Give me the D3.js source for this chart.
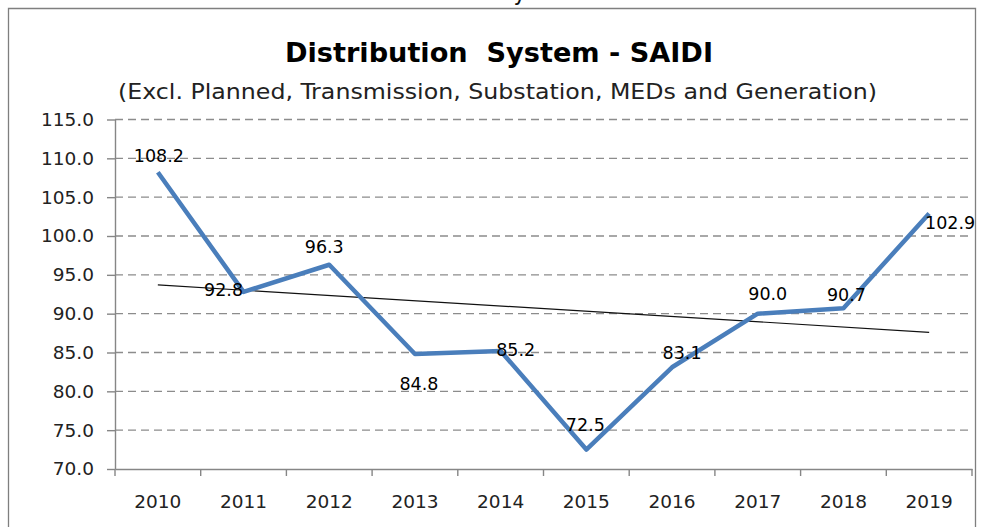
<!DOCTYPE html>
<html>
<head>
<meta charset="utf-8">
<script src="https://cdn.jsdelivr.net/npm/d3@7"></script>
<style>
  html, body { margin: 0; padding: 0; background: #fff; }
  svg { display: block; }
</style>
</head>
<body>
<div id="chart"></div>
<script>
// data
const years = ["2010", "2011", "2012", "2013", "2014", "2015", "2016", "2017", "2018", "2019"];
const saidi = [108.2, 92.8, 96.3, 84.8, 85.2, 72.5, 83.1, 90.0, 90.7, 102.9];
const yTicks = [70, 75, 80, 85, 90, 95, 100, 105, 110, 115];
// where each data label sits relative to its point (as placed in the original)
const labelOffsets = [[1, -17], [-20, -2], [-5, -18], [4, 30], [15, -1], [-1, -25], [10, -15], [10, -20], [3, -14], [21, 9]];

const W = 988, H = 527;
const plotLeft = 115, plotRight = 972, plotTop = 119.5, plotBottom = 469;

const svg = d3.select("#chart").append("svg")
    .attr("width", W)
    .attr("height", H);

// clipped bit of text from above the chart frame
svg.append("text")
    .attr("x", 520).attr("y", 0)
    .attr("font-family", "DejaVu Sans Condensed, DejaVu Sans")
    .attr("font-size", 24)
    .attr("text-anchor", "middle")
    .attr("fill", "#111")
    .text("y");

// chart frame (bottom edge falls outside the picture)
svg.append("path")
    .attr("d", "M8.5," + (H + 5) + "V8.5H975.5V" + (H + 5))
    .attr("fill", "none")
    .attr("stroke", "#7f7f7f")
    .attr("stroke-width", 1.3);

svg.append("text")
    .attr("x", 285).attr("y", 62)
    .attr("font-family", "DejaVu Sans Condensed, DejaVu Sans")
    .attr("font-weight", "bold")
    .attr("font-size", 27)
    .attr("textLength", 428)
    .attr("lengthAdjust", "spacingAndGlyphs")
    .attr("fill", "#000")
    .style("white-space", "pre")
    .text("Distribution  System - SAIDI");

svg.append("text")
    .attr("x", 118).attr("y", 99)
    .attr("font-family", "DejaVu Sans Condensed, DejaVu Sans")
    .attr("font-size", 21.5)
    .attr("textLength", 759)
    .attr("lengthAdjust", "spacingAndGlyphs")
    .attr("fill", "#222")
    .text("(Excl. Planned, Transmission, Substation, MEDs and Generation)");

const x = d3.scaleBand()
    .domain(years)
    .range([plotLeft, plotRight]);
const cx = d => x(d) + x.bandwidth() / 2;

const y = d3.scaleLinear()
    .domain([70, 115])
    .range([plotBottom, plotTop]);

// dashed gridlines
svg.append("g")
    .selectAll("line")
    .data(yTicks.filter(t => t > 70))
    .enter()
    .append("line")
    .attr("x1", plotLeft).attr("x2", plotRight)
    .attr("y1", d => y(d)).attr("y2", d => y(d))
    .attr("stroke", "#8c8c8c")
    .attr("stroke-width", 1.4)
    .attr("stroke-dasharray", "8,5");

// Y axis
const yAxis = svg.append("g")
    .attr("transform", "translate(" + plotLeft + ",0)")
    .call(d3.axisLeft(y).tickValues(yTicks).tickFormat(d3.format(".1f"))
        .tickSizeInner(8).tickSizeOuter(0).tickPadding(13));
yAxis.select(".domain").attr("stroke", "#868686").attr("stroke-width", 1.4);
yAxis.selectAll(".tick line").attr("stroke", "#868686").attr("stroke-width", 1.4);
yAxis.selectAll(".tick text")
    .attr("font-family", "DejaVu Sans")
    .attr("font-size", 18.5)
    .attr("fill", "#222");

// X axis
const xAxis = svg.append("g")
    .attr("transform", "translate(0," + plotBottom + ")")
    .call(d3.axisBottom(x).tickSize(0).tickPadding(0));
xAxis.select(".domain").attr("stroke", "#868686").attr("stroke-width", 1.4);
xAxis.selectAll(".tick text")
    .attr("y", 39).attr("dy", 0)
    .attr("font-family", "DejaVu Sans")
    .attr("font-size", 18.5)
    .attr("fill", "#222");
// category boundary ticks
xAxis.selectAll(".bound")
    .data(years.concat(["end"]))
    .enter()
    .append("line")
    .attr("class", "bound")
    .attr("x1", (d, i) => i < years.length ? x(d) : plotRight)
    .attr("x2", (d, i) => i < years.length ? x(d) : plotRight)
    .attr("y1", 0).attr("y2", 7)
    .attr("stroke", "#868686").attr("stroke-width", 1.4);

// linear trendline (least squares over the series)
const n = saidi.length;
const mx = d3.mean(d3.range(n)), my = d3.mean(saidi);
const slope = d3.sum(saidi, (v, i) => (i - mx) * (v - my)) / d3.sum(d3.range(n), i => (i - mx) * (i - mx));
const trend = [0, n - 1].map(i => [cx(years[i]), y(my + slope * (i - mx))]);
svg.append("line")
    .attr("x1", trend[0][0]).attr("y1", trend[0][1])
    .attr("x2", trend[1][0]).attr("y2", trend[1][1])
    .attr("stroke", "#111")
    .attr("stroke-width", 1.2);

// series line
const line = d3.line()
    .x((d, i) => cx(years[i]))
    .y(d => y(d));
svg.append("path")
    .datum(saidi)
    .attr("d", line)
    .attr("fill", "none")
    .attr("stroke", "#4a7ebb")
    .attr("stroke-width", 4.5)
    .attr("stroke-linejoin", "round");

// data labels
svg.append("g")
    .selectAll("text")
    .data(saidi)
    .enter()
    .append("text")
    .attr("x", (d, i) => cx(years[i]) + labelOffsets[i][0])
    .attr("y", (d, i) => y(d) + labelOffsets[i][1])
    .attr("dy", "0.36em")
    .attr("text-anchor", "middle")
    .attr("font-family", "DejaVu Sans")
    .attr("font-size", 17.5)
    .attr("fill", "#000")
    .text(d => d.toFixed(1));
</script>
</body>
</html>
